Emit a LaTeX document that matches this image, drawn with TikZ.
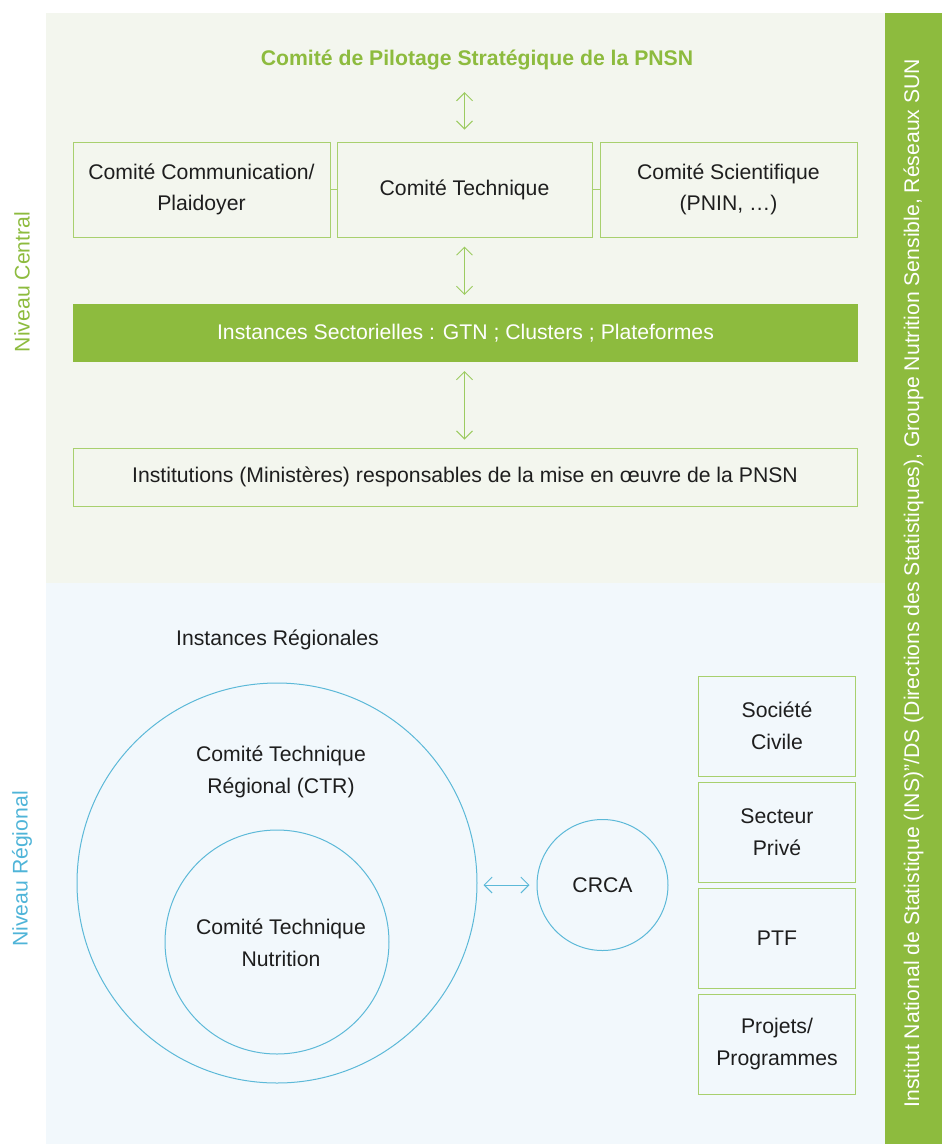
\documentclass[tikz,border=0pt]{standalone}
\usepackage{fontspec}
\setmainfont{Liberation Sans}
\usetikzlibrary{arrows.meta}
\definecolor{barg}{HTML}{8DBB3E}
\definecolor{panelg}{HTML}{F3F6EE}
\definecolor{panelb}{HTML}{F2F8FC}
\definecolor{boxg}{HTML}{A8D06E}
\definecolor{arrg}{HTML}{9CCB60}
\definecolor{circb}{HTML}{5CB9D8}
\definecolor{labb}{HTML}{4FB4D8}
\definecolor{txt}{HTML}{1E1E1E}
\begin{document}
\begin{tikzpicture}[x=1pt,y=-1pt,
  every node/.style={font=\fontsize{21.2}{31.5}\selectfont, text=txt, inner sep=0pt},
  gbox/.style={draw=boxg, line width=1pt, align=center},
  dblg/.style={draw=arrg, line width=0.9pt, {Straight Barb[length=8pt,width=16pt]}-{Straight Barb[length=8pt,width=16pt]}},
  dblb/.style={draw=circb, line width=0.9pt, {Straight Barb[length=8pt,width=16pt]}-{Straight Barb[length=8pt,width=16pt]}},
  rbox/.style={gbox, minimum width=157pt, minimum height=100pt},
  circ/.style={circle, draw=circb, line width=1pt, align=center}]
\useasboundingbox (0,0) rectangle (942,1144);
% panels
\fill[panelg] (46,13) rectangle (885,583);
\fill[panelb] (46,583) rectangle (885,1144);
\fill[barg] (885,13) rectangle (942,1144);
% side labels
\node[rotate=90, text=barg] (lc) at (22,282) {Niveau Central};
\node[rotate=90, text=labb] (lr) at (22,869) {Niveau Régional};
\node[rotate=90, text=white] (side) at (913.5,583) {Institut National de Statistique (INS)”/DS (Directions des Statistiques), Groupe Nutrition Sensible, Réseaux SUN};
% central level
\node[text=barg, font=\bfseries\fontsize{21.2}{31.5}\selectfont] (title) at (477,60) {Comité de Pilotage Stratégique de la PNSN};
\node[gbox, minimum width=257pt, minimum height=95pt] (b1) at (201.5,189.5) {Comité Communication/\\Plaidoyer};
\node[gbox, minimum width=255pt, minimum height=95pt] (b2) at (464.5,189.5) {Comité Technique};
\node[gbox, minimum width=257pt, minimum height=95pt] (b3) at (728.5,189.5) {Comité Scientifique\\(PNIN, …)};
\draw[boxg, line width=1pt] (b1.east) -- (b2.west);
\draw[boxg, line width=1pt] (b2.east) -- (b3.west);
\node[fill=barg, text=white, minimum width=785pt, minimum height=58pt] (bar) at (465.5,333) {Instances Sectorielles : GTN ; Clusters ; Plateformes};
\node[gbox, minimum width=784pt, minimum height=58pt] (inst) at (465,477) {Institutions (Ministères) responsables de la mise en œuvre de la PNSN};
\draw[dblg, shorten <=22pt, shorten >=12pt] (b2.north |- title.south) -- (b2.north);
\draw[dblg, shorten <=9pt, shorten >=9pt] (b2.south) -- (b2.south |- bar.north);
\draw[dblg, shorten <=9pt, shorten >=8pt] (bar.south -| b2.south) -- (b2.south |- inst.north);
% regional level
\node (ir) at (277.5,640) {Instances Régionales};
\node[circ, minimum size=400pt] (big) at (277,883) {};
\node[circ, minimum size=224pt] (small) at (277,942) {};
\node[align=center] (ctr) at (281,772) {Comité Technique\\Régional (CTR)};
\node[align=center] (ctn) at (281,943) {Comité Technique\\Nutrition};
\node[circ, minimum size=131pt] (crca) at (602.5,885) {CRCA};
\draw[dblb, shorten <=6pt, shorten >=7pt] (big.east |- crca.west) -- (crca.west);
\node[rbox] (r1) at (777,726) {Société\\Civile};
\node[rbox] (r2) at (777,832) {Secteur\\Privé};
\node[rbox] (r3) at (777,938) {PTF};
\node[rbox] (r4) at (777,1044) {Projets/\\Programmes};
\end{tikzpicture}
\end{document}
